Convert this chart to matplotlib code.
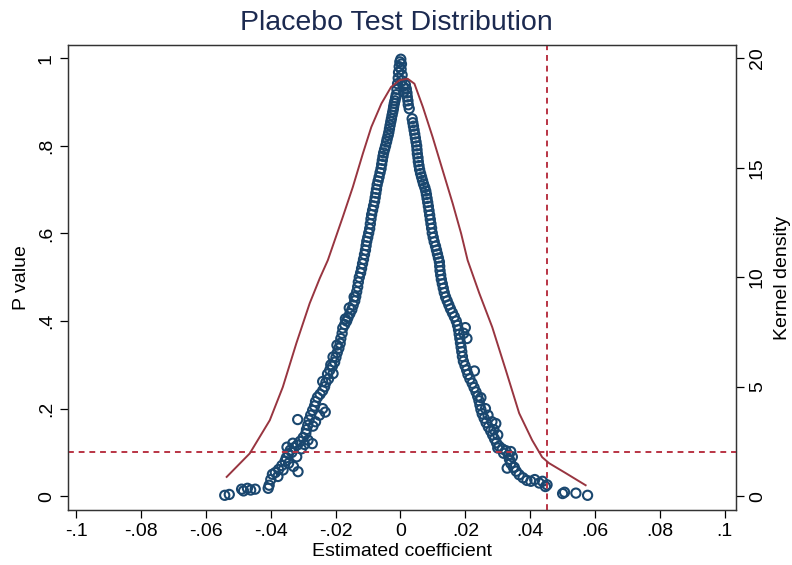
import matplotlib
matplotlib.use('Agg')
import matplotlib.pyplot as plt

plt.rcParams['font.family'] = ['Liberation Sans', 'DejaVu Sans']

# placebo estimates: coefficient and p value
coef_left = [0.0001, -0.0002, 0.0003, -0.0004, 0.0002, -0.0006, 0.0005, -0.0007, 0.0004, -0.0009,
             0.0008, -0.0011, 0.0010, -0.0013,
             -0.0015, -0.0017, -0.0019, -0.0021, -0.0022, -0.0024, -0.0026, -0.0028, -0.0030, -0.0032,
             -0.0034, -0.0036, -0.0038, -0.0041, -0.0043, -0.0046, -0.0049, -0.0052, -0.0054, -0.0056,
             -0.0058, -0.0060, -0.0063, -0.0066, -0.0069, -0.0072, -0.0074, -0.0076, -0.0078, -0.0080,
             -0.0083, -0.0086, -0.0089, -0.0091, -0.0093, -0.0095, -0.0098, -0.0101, -0.0104, -0.0106,
             -0.0108, -0.0111, -0.0114, -0.0117, -0.0120, -0.0123, -0.0127, -0.0130, -0.0132, -0.0135,
             -0.0138, -0.0141, -0.0146, -0.0150, -0.0156, -0.0162, -0.0166, -0.0172, -0.0178, -0.0180,
             -0.0184, -0.0186, -0.0190, -0.0195, -0.0199, -0.0203, -0.0210, -0.0218, -0.0225, -0.0222,
             -0.0230, -0.0234, -0.0240, -0.0248, -0.0256, -0.0262, -0.0265, -0.0271, -0.0277, -0.0282,
             -0.0286, -0.0290, -0.0292, -0.0300, -0.0310, -0.0318, -0.0328, -0.0340, -0.0346, -0.0352,
             -0.0356, -0.0366, -0.0376, -0.0386, -0.0395, -0.0400, -0.0405, -0.0408, -0.0448, -0.0462,
             -0.0472, -0.0484, -0.0490, -0.0528, -0.0542,
             -0.0262, -0.0250, -0.0240, -0.0232, -0.0270, -0.0296, -0.0285, -0.0272, -0.0335, -0.0320,
             -0.0306, -0.0345, -0.0330, -0.0316, -0.0362, -0.0378, -0.0317, -0.0332, -0.0350,
             -0.0158, -0.0170, -0.0143, -0.0196, -0.0208, -0.0215, -0.0240, -0.0208]
pval_left = [0.998, 0.992, 0.987, 0.981, 0.975, 0.968, 0.962, 0.955, 0.949, 0.942,
             0.936, 0.929, 0.923, 0.917,
             0.910, 0.903, 0.897, 0.890, 0.884, 0.877, 0.870, 0.862, 0.855, 0.847,
             0.839, 0.831, 0.824, 0.816, 0.809, 0.800, 0.792, 0.784, 0.776, 0.767,
             0.758, 0.748, 0.739, 0.729, 0.720, 0.711, 0.701, 0.692, 0.682, 0.673,
             0.663, 0.653, 0.643, 0.633, 0.622, 0.611, 0.601, 0.591, 0.582, 0.572,
             0.562, 0.552, 0.541, 0.531, 0.520, 0.510, 0.500, 0.489, 0.478, 0.467,
             0.456, 0.446, 0.436, 0.426, 0.417, 0.408, 0.400, 0.392, 0.384, 0.372,
             0.360, 0.349, 0.338, 0.328, 0.317, 0.306, 0.297, 0.288, 0.279, 0.268,
             0.260, 0.250, 0.241, 0.233, 0.226, 0.216, 0.206, 0.196, 0.185, 0.174,
             0.162, 0.152, 0.143, 0.134, 0.125, 0.117, 0.111, 0.105, 0.097, 0.088,
             0.080, 0.070, 0.061, 0.054, 0.050, 0.038, 0.025, 0.018, 0.016, 0.014,
             0.018, 0.012, 0.016, 0.004, 0.002,
             0.170, 0.185, 0.200, 0.192, 0.160, 0.118, 0.128, 0.120, 0.100, 0.090,
             0.108, 0.075, 0.068, 0.056, 0.060, 0.045, 0.175, 0.121, 0.112,
             0.430, 0.405, 0.455, 0.345, 0.318, 0.300, 0.262, 0.280]

coef_right = [0.0015, 0.0018, 0.0020, 0.0021, 0.0023, 0.0024, 0.0027, 0.0036, 0.0038, 0.0040,
              0.0042, 0.0044, 0.0046, 0.0048, 0.0050, 0.0051, 0.0052, 0.0054, 0.0055, 0.0057,
              0.0059, 0.0062, 0.0065, 0.0068, 0.0071, 0.0075, 0.0078, 0.0080, 0.0082, 0.0084,
              0.0086, 0.0088, 0.0090, 0.0092, 0.0094, 0.0096, 0.0098, 0.0101, 0.0104, 0.0108,
              0.0111, 0.0114, 0.0117, 0.0120, 0.0121, 0.0122, 0.0124, 0.0126, 0.0129, 0.0132,
              0.0135, 0.0139, 0.0144, 0.0149, 0.0154, 0.0160, 0.0166, 0.0172, 0.0176, 0.0179,
              0.0181, 0.0183, 0.0185, 0.0187, 0.0189, 0.0191, 0.0194, 0.0199, 0.0204, 0.0208,
              0.0214, 0.0221, 0.0227, 0.0233, 0.0238, 0.0242, 0.0245, 0.0248, 0.0252, 0.0258,
              0.0264, 0.0271, 0.0278, 0.0284, 0.0290, 0.0296, 0.0304, 0.0314, 0.0325, 0.0333,
              0.0336, 0.0340, 0.0348, 0.0357, 0.0366, 0.0378, 0.0390, 0.0402, 0.0414, 0.0428,
              0.0438, 0.0447, 0.0452, 0.0500, 0.0506, 0.0541, 0.0577,
              0.0228, 0.0248, 0.0294, 0.0329, 0.0351, 0.0195, 0.0205, 0.0200, 0.0262, 0.0270,
              0.0282, 0.0288, 0.0300, 0.0300, 0.0318, 0.0340, 0.0345]
pval_right = [0.940, 0.930, 0.921, 0.912, 0.903, 0.894, 0.885, 0.862, 0.853, 0.845,
              0.836, 0.827, 0.818, 0.809, 0.800, 0.791, 0.782, 0.773, 0.764, 0.755,
              0.746, 0.737, 0.729, 0.721, 0.713, 0.705, 0.697, 0.689, 0.680, 0.671,
              0.662, 0.652, 0.642, 0.632, 0.622, 0.612, 0.601, 0.591, 0.581, 0.571,
              0.562, 0.553, 0.544, 0.535, 0.525, 0.515, 0.505, 0.495, 0.485, 0.475,
              0.465, 0.455, 0.446, 0.437, 0.428, 0.419, 0.410, 0.400, 0.390, 0.380,
              0.370, 0.360, 0.350, 0.340, 0.330, 0.319, 0.308, 0.298, 0.288, 0.278,
              0.268, 0.258, 0.248, 0.238, 0.228, 0.218, 0.208, 0.198, 0.188, 0.178,
              0.168, 0.158, 0.149, 0.140, 0.131, 0.122, 0.114, 0.108, 0.104, 0.094,
              0.084, 0.075, 0.066, 0.057, 0.049, 0.042, 0.036, 0.034, 0.038, 0.030,
              0.034, 0.022, 0.026, 0.006, 0.009, 0.007, 0.002,
              0.286, 0.225, 0.166, 0.064, 0.066, 0.372, 0.360, 0.385, 0.200, 0.185,
              0.170, 0.152, 0.140, 0.110, 0.098, 0.102, 0.090]

# kernel density of the estimates
kd_x = [-0.0536, -0.0465, -0.0403, -0.0363, -0.0321, -0.0280, -0.0249, -0.0224, -0.0178, -0.0147,
        -0.0116, -0.0090, -0.0059, -0.0029, -0.0003, 0.0022, 0.0043, 0.0069, 0.0099, 0.0130,
        0.0161, 0.0187, 0.0207, 0.0243, 0.0283, 0.0325, 0.0366, 0.0406, 0.0437, 0.0458,
        0.0510, 0.0571]
kd_y = [0.88, 1.95, 3.47, 4.98, 6.99, 8.81, 9.95, 10.78, 12.75, 14.12,
        15.65, 16.86, 17.93, 18.69, 19.00, 19.07, 18.84, 17.78, 16.41, 14.89,
        13.37, 12.00, 10.78, 9.27, 7.72, 5.75, 3.79, 2.56, 1.78, 1.51,
        1.05, 0.50]

true_coef = 0.0452
p_cut = 0.1

x_ticks = [-0.1, -0.08, -0.06, -0.04, -0.02, 0, 0.02, 0.04, 0.06, 0.08, 0.1]
x_labels = ['-.1', '-.08', '-.06', '-.04', '-.02', '0', '.02', '.04', '.06', '.08', '.1']
y_ticks = [0, 0.2, 0.4, 0.6, 0.8, 1]
y_labels = ['0', '.2', '.4', '.6', '.8', '1']
kd_ticks = [0, 5, 10, 15, 20]

navy = '#1a476f'
maroon = '#983540'
red = '#b93444'

fig = plt.figure(figsize=(7.92, 5.65), dpi=100)
ax = fig.add_axes([0.086, 0.097, 0.843, 0.823])

ax.scatter(coef_left + coef_right, pval_left + pval_right, s=44, facecolors='none',
           edgecolors=navy, linewidths=1.5, zorder=3)
ax.axhline(p_cut, color=red, ls=(0, (3, 2.5)), lw=1.4, zorder=4)
ax.axvline(true_coef, color=red, ls=(0, (3, 2.5)), lw=1.4, zorder=4)

ax.set_xlim(-0.1025, 0.1034)
ax.set_ylim(-0.032, 1.03)
ax.set_xticks(x_ticks)
ax.set_xticklabels(x_labels)
ax.set_yticks(y_ticks)
ax.set_yticklabels(y_labels, rotation=90, va='center')
ax.tick_params(labelsize=14, length=6, width=0.9, colors='black')
ax.set_xlabel('Estimated coefficient', fontsize=14, labelpad=2)
ax.set_ylabel('P value', fontsize=14, labelpad=6)

ax2 = ax.twinx()
ax2.plot(kd_x, kd_y, color=maroon, lw=1.4, zorder=2)
ax2.set_ylim(-0.64, 20.6)
ax2.set_yticks(kd_ticks)
ax2.set_yticklabels([str(t) for t in kd_ticks], rotation=90, va='center')
ax2.tick_params(labelsize=14, length=6, width=0.9)
ax2.set_ylabel('Kernel density', fontsize=14, labelpad=6)

for a in (ax, ax2):
    for sp in a.spines.values():
        sp.set_linewidth(0.9)
        sp.set_color('#333333')

fig.suptitle('Placebo Test Distribution', fontsize=20.5, color='#1c2a50', y=0.982)

fig.savefig('out.png', dpi=100)
